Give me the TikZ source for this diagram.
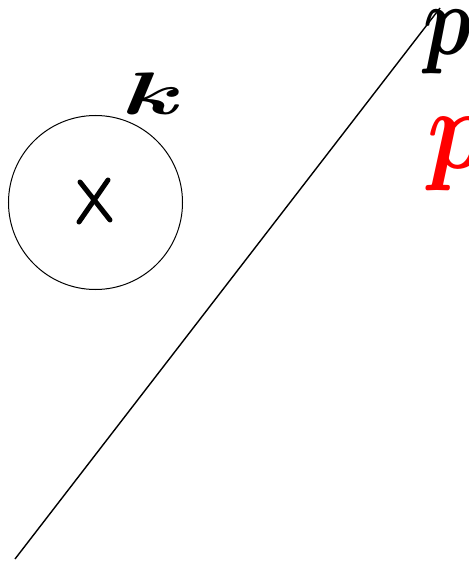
\documentclass[tikz,border=0pt]{standalone}
\usepackage{graphicx}

\begin{document}
\begin{tikzpicture}[
    x=1pt, y=-1pt,
    every node/.style={inner sep=0pt, font=\boldmath}
]

\useasboundingbox (0,0) rectangle (468,561);

% ================= circle k =================

\node[circle, draw, line width=1pt, minimum size=174pt] (circ) at (95.5,202.5) {};

\coordinate (x1) at (80,182);
\coordinate (x2) at (110,220);
\coordinate (x3) at (108,180);
\coordinate (x4) at (79,222);
\draw[line width=5pt, line cap=round] (x1)--(x2);
\draw[line width=5pt, line cap=round] (x3)--(x4);

\node (k) at (154,94) {\scalebox{10}[6]{$k$}};



% ================= line p =================

\coordinate (a) at (15,559);
\coordinate (b) at (440,8);

\draw[line width=1.4pt] (a)--(b);

\node[anchor=north west] (pblack) at (423,10) {\scalebox{8}[10]{$p$}};
\node[anchor=north west, text=red] (pred) at (427,117) {\scalebox{10}[11.5]{$p$}};

\end{tikzpicture}
\end{document}
